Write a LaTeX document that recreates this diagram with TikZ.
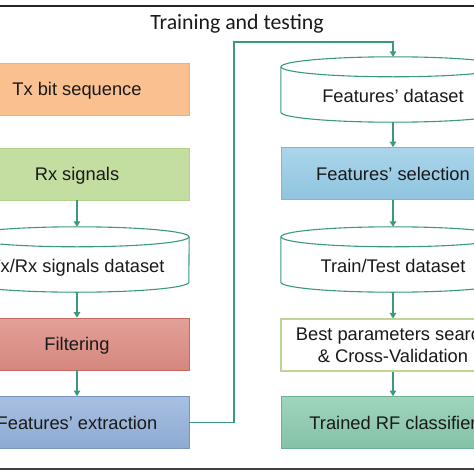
\documentclass[tikz,border=0pt]{standalone}
\usepackage{fontspec}
\setmainfont{Liberation Sans}
\newfontfamily\titlefont{Carlito}
\usetikzlibrary{arrows.meta}
\definecolor{flowgreen}{HTML}{3A9A80}
\definecolor{txfill}{HTML}{FAC090}
\definecolor{txline}{HTML}{F2AE76}
\definecolor{rxfill}{HTML}{C3DEA0}
\definecolor{rxline}{HTML}{B1D28B}
\definecolor{filttop}{HTML}{E2A098}
\definecolor{filtbot}{HTML}{D6877E}
\definecolor{filtline}{HTML}{C66A61}
\definecolor{fexttop}{HTML}{A8C0E0}
\definecolor{fextbot}{HTML}{8DAAD4}
\definecolor{fextline}{HTML}{7895C2}
\definecolor{fseltop}{HTML}{ABD5EB}
\definecolor{fselbot}{HTML}{8FC4DF}
\definecolor{fselline}{HTML}{7DB5D5}
\definecolor{bestline}{HTML}{BFD496}
\definecolor{rftop}{HTML}{A0D4BD}
\definecolor{rfbot}{HTML}{83C2A6}
\definecolor{rfline}{HTML}{6DB194}
\tikzset{
    every node/.style={font=\fontsize{18.3}{22}\selectfont, text=black!90},
    box/.style={rectangle, draw, line width=0.8pt, minimum width=224pt,
        minimum height=52pt, text height=13.1pt, text depth=0pt},
    dbnode/.style={rectangle, minimum width=224pt, minimum height=65pt,
        text height=25.1pt, text depth=0pt},
    dbline/.style={draw=flowgreen, line width=1.1pt},
    flow/.style={draw=flowgreen, line width=1.1pt,
        -{Triangle[width=6.5pt,length=5.5pt]}}
}

\begin{document}
\begin{tikzpicture}[x=1pt, y=-1pt]
	\useasboundingbox (0,0) rectangle (474,474);
	\clip (0,0) rectangle (474,474);
	\draw[line width=1.5pt, black!85] (0,6) -- (474,6);
	\draw[line width=2pt, black!75] (0,469) -- (474,469);
	\node (title) [anchor=base] at (237,29)
		{\titlefont\fontsize{21.8}{26}\selectfont Training and testing};

	% left column
	\node (txbits) [box, fill=txfill, draw=txline] at (77,89) {Tx bit sequence};
	\node (rxsig) [box, fill=rxfill, draw=rxline] at (77,174) {Rx signals};
	\node (txrxdata) [dbnode] at (77,259.5) {Tx/Rx signals dataset};
	\node (filt) [box, top color=filttop, bottom color=filtbot, draw=filtline]
		at (77,344) {Filtering};
	\node (fext) [box, top color=fexttop, bottom color=fextbot, draw=fextline]
		at (77,422.5) {Features’ extraction};

	% right column
	\node (featdata) [dbnode] at (393,89.5) {Features’ dataset};
	\node (fsel) [box, top color=fseltop, bottom color=fselbot, draw=fselline]
		at (393,173.5) {Features’ selection};
	\node (ttdata) [dbnode] at (393,259.5) {Train/Test dataset};
	\node (best) [box, fill=white, draw=bestline, line width=1.1pt,
		text height=, text depth=, align=center, font=\fontsize{18.3}{22}\selectfont]
		at (393,345) {Best parameters search\\ \& Cross-Validation};
	\node (rfclf) [box, top color=rftop, bottom color=rfbot, draw=rfline]
		at (393,422.5) {Trained RF classifier};

	\foreach \db in {txrxdata, featdata, ttdata} {
		\draw[dbline] ([yshift=-10pt]\db.north) ellipse [x radius=112pt, y radius=10pt];
		\draw[dbline] ([yshift=-10pt]\db.north west) -- ([yshift=10pt]\db.south west)
			arc [start angle=180, end angle=360, x radius=112pt, y radius=10pt]
			-- ([yshift=-10pt]\db.north east);
	}

	\coordinate (bend) at (234,42);
	\draw[flow] (rxsig) -- (txrxdata);
	\draw[flow] (txrxdata) -- (filt);
	\draw[flow] (filt) -- (fext);
	\draw[flow] (fext.east) -| (bend) -| (featdata.north);
	\draw[flow] (featdata) -- (fsel);
	\draw[flow] (fsel) -- (ttdata);
	\draw[flow] (ttdata) -- (best);
	\draw[flow] (best) -- (rfclf);
\end{tikzpicture}
\end{document}
